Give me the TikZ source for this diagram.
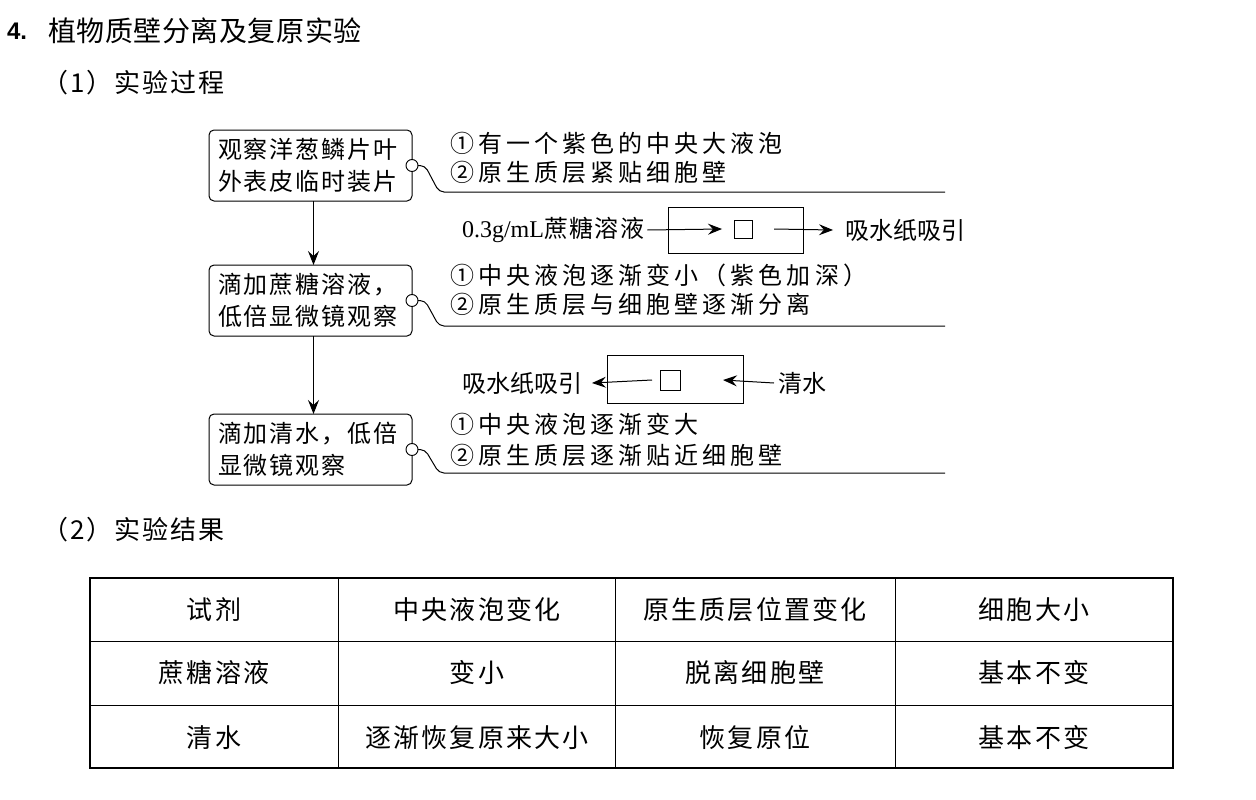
\documentclass[tikz,border=0pt]{standalone}
\usepackage{fontspec}
\setmainfont{Noto Sans CJK SC}
\newfontfamily\latinserif{Liberation Serif}
\newfontfamily\latinsans{Liberation Sans}
\usetikzlibrary{arrows.meta}
\tikzset{
  every node/.style={inner sep=0pt, outer sep=0pt},
  stepbox/.style={draw, line width=1pt, rounded corners=5pt, minimum width=203pt, minimum height=71pt,
    text width=185pt, align=left, font=\fontsize{24}{32}\selectfont\addfontfeature{LetterSpace=8}},
  knob/.style={draw, circle, line width=0.9pt, fill=white, minimum size=12pt},
  note/.style={anchor=west, font=\fontsize{24}{30}\selectfont\addfontfeature{LetterSpace=17}},
  flowtxt/.style={font=\fontsize{24}{28}\selectfont},
  link/.style={line width=1pt, rounded corners=5pt},
  arr/.style={line width=1pt, -{Stealth[length=14pt,width=11pt,inset=5pt]}},
  cell/.style={font=\fontsize{26}{30}\selectfont\addfontfeature{LetterSpace=8}},
  heading/.style={anchor=west, font=\fontsize{26}{30}\selectfont\addfontfeature{LetterSpace=8}},
}
\begin{document}
\begin{tikzpicture}[x=1pt, y=-1pt]
\useasboundingbox (0,0) rectangle (1256,800);
\fill[white] (0,0) rectangle (1256,800);

% title and headings
\node[anchor=west, font=\fontsize{24}{28}\latinsans\bfseries] (num) at (7,31) {4.};
\node[anchor=west, font=\fontsize{28}{32}\selectfont\addfontfeature{LetterSpace=2}] (title) at (48,31) {植物质壁分离及复原实验};
\node[heading] (h1) at (42,83) {（1）实验过程};
\node[heading] (h2) at (42,530) {（2）实验结果};

% step boxes
\node[stepbox] (b1) at (310.5,165.5) {观察洋葱鳞片叶\\外表皮临时装片};
\node[stepbox] (b2) at (310.5,300.5) {滴加蔗糖溶液，\\低倍显微镜观察};
\node[stepbox] (b3) at (310.5,449.5) {滴加清水，低倍\\显微镜观察};
\draw[arr] ([xshift=3pt]b1.south) -- ([xshift=3pt]b2.north);
\draw[arr] ([xshift=3pt]b2.south) -- ([xshift=3pt]b3.north);

% knobs and notes
\node[knob] (k1) at (b1.east) {};
\node[knob] (k2) at (b2.east) {};
\node[knob] (k3) at (b3.east) {};
\coordinate (e1) at (945,192);
\coordinate (e2) at (945,326);
\coordinate (e3) at (945,473);
\draw[link] (k1.east) -- ++(7,0) -- ++(14,26.5) -- (e1);
\draw[link] (k2.east) -- ++(7,0) -- ++(14,25.5) -- (e2);
\draw[link] (k3.east) -- ++(7,0) -- ++(14,23.5) -- (e3);

\node[note] (n11) at (450,143) {①有一个紫色的中央大液泡};
\node[note] (n12) at (450,172) {②原生质层紧贴细胞壁};
\node[note] (n21) at (450,275) {①中央液泡逐渐变小（紫色加深）};
\node[note] (n22) at (450,304) {②原生质层与细胞壁逐渐分离};
\node[note] (n31) at (450,424) {①中央液泡逐渐变大};
\node[note] (n32) at (450,455) {②原生质层逐渐贴近细胞壁};

% flow 1 (sucrose)
\node[flowtxt, anchor=west] (t1) at (462,230) {{\latinserif 0.3g/mL}\addfontfeature{LetterSpace=6}蔗糖溶液};
\node[draw, line width=0.9pt, minimum width=135pt, minimum height=46pt] (r1) at (736,230) {};
\node[draw, line width=0.9pt, minimum size=18pt] (s1) at (743,229) {};
\node[flowtxt, anchor=west] (w1) at (845,230) {吸水纸吸引};
\draw[arr] ([xshift=3pt]t1.east) -- ([xshift=-12pt]s1.west);
\draw[arr] ([xshift=22pt]s1.east) -- ([xshift=-12pt]w1.west);

% flow 2 (water)
\node[flowtxt, anchor=east] (w2) at (582,383) {吸水纸吸引};
\node[draw, line width=0.9pt, minimum width=136pt, minimum height=48pt] (r2) at (675,379) {};
\node[draw, line width=0.9pt, minimum size=20pt] (s2) at (670,380) {};
\node[flowtxt, anchor=west] (q2) at (778,383) {清水};
\draw[arr] ([xshift=-8pt]s2.west) -- ([xshift=10pt]w2.east);
\draw[arr] ([xshift=-4pt]q2.west) -- ([xshift=43pt]s2.east);

% table
\draw[line width=0.8pt] (338,578) -- (338,768) (615,578) -- (615,768) (895,578) -- (895,768);
\draw[line width=0.8pt] (90,641) -- (1173,641) (90,705) -- (1173,705);
\draw[line width=1.6pt] (90,578) rectangle (1173,768);
\node[cell] (c11) at (214,610) {试剂};
\node[cell] (c12) at (477,610) {中央液泡变化};
\node[cell] (c13) at (755,610) {原生质层位置变化};
\node[cell] (c14) at (1034,610) {细胞大小};
\node[cell] (c21) at (214,673) {蔗糖溶液};
\node[cell] (c22) at (477,673) {变小};
\node[cell] (c23) at (755,673) {脱离细胞壁};
\node[cell] (c24) at (1034,673) {基本不变};
\node[cell] (c31) at (214,738) {清水};
\node[cell] (c32) at (477,738) {逐渐恢复原来大小};
\node[cell] (c33) at (755,738) {恢复原位};
\node[cell] (c34) at (1034,738) {基本不变};
\end{tikzpicture}
\end{document}
